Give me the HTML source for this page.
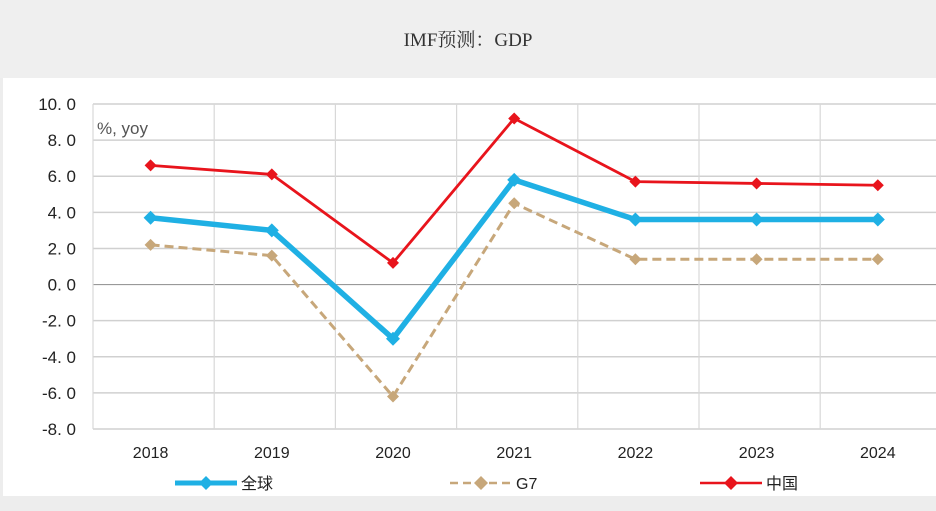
<!DOCTYPE html>
<html><head><meta charset="utf-8"><style>
body{margin:0;width:936px;height:506px;background:#ededed;overflow:hidden;font-family:"Liberation Sans","Noto Sans CJK SC",sans-serif}
</style></head><body>
<svg id="c" width="936" height="506" xmlns="http://www.w3.org/2000/svg">
<rect x="0" y="0" width="936" height="78" fill="#efefef"/>
<text x="468" y="46" text-anchor="middle" font-size="19" fill="#333" font-family="Liberation Serif, Noto Serif CJK SC, serif">IMF预测：GDP</text>
<rect x="3" y="78" width="933" height="418" fill="#fff"/>
<g id="grid"></g><g id="series"></g>
<text x="97" y="134" font-size="17" fill="#555">%,  yoy</text>
<g id="legend"></g>
</svg>
<script>
const years=['2018','2019','2020','2021','2022','2023','2024'];
const yTicks=[10,8,6,4,2,0,-2,-4,-6,-8];
const globalVals=[3.7,3.0,-3.0,5.8,3.6,3.6,3.6];
const g7Vals=[2.2,1.6,-6.2,4.5,1.4,1.4,1.4];
const chinaVals=[6.6,6.1,1.2,9.2,5.7,5.6,5.5];
const NS='http://www.w3.org/2000/svg';
const x0=90,cw=121.2,yTop=104,yBot=429,vmax=10,vmin=-8;
const X=i=>x0+cw*(i+0.5);
const Y=v=>yTop+(vmax-v)/(vmax-vmin)*(yBot-yTop);
function mk(t,a,p){const e=document.createElementNS(NS,t);for(const k in a)e.setAttribute(k,a[k]);p.appendChild(e);return e;}
const grid=document.getElementById('grid');
yTicks.forEach(v=>{
 const l=mk('line',{x1:x0+3,x2:936,y1:Y(v),y2:Y(v),stroke:v===0?'#999':'#d0d0d0','stroke-width':v===0?1.2:1.5},grid);
 
 
 const t=mk('text',{x:76,y:Y(v)+6,'text-anchor':'end','font-size':17,fill:'#222'},grid);
 t.textContent=v.toFixed(1).replace('.','. ');
 
 
});
for(let i=0;i<years.length;i++){
 const gx=x0+3+cw*i;
 const l=mk('line',{x1:gx,x2:gx,y1:yTop,y2:yBot,stroke:'#d8d8d8','stroke-width':1.2},grid);
 
 
 const t=mk('text',{x:X(i),y:458,'text-anchor':'middle','font-size':16,fill:'#222'},grid);
 t.textContent=years[i];
 
 
}
const ser=document.getElementById('series');
function draw(vals,color,w,dash,name,mr){
 const pts=vals.map((v,i)=>X(i)+','+Y(v)).join(' ');
 const p=mk('polyline',{points:pts,fill:'none',stroke:color,'stroke-width':w,'stroke-dasharray':dash||'none','stroke-linejoin':'round'},ser);
 
 
 vals.forEach((v,i)=>{
  const cx=X(i),cy=Y(v);
  const m=mk('polygon',{points:`${cx},${cy-mr} ${cx+mr},${cy} ${cx},${cy+mr} ${cx-mr},${cy}`,fill:color},ser);
  
  
 });
}
draw(g7Vals,'#c7a77a',3,'9,5','g7',6);
draw(globalVals,'#1fb0e4',5.5,null,'global',7);
draw(chinaVals,'#e8141c',2.8,null,'china',6);
const lg=document.getElementById('legend');
const items=[['全球','#1fb0e4',5,null,175],['G7','#c7a77a',2.5,'8,5',450],['中国','#e8141c',2.5,null,700]];
items.forEach(it=>{
 const g=mk('g',{},lg);
 
 
 mk('line',{x1:it[4],x2:it[4]+62,y1:483,y2:483,stroke:it[1],'stroke-width':it[2],'stroke-dasharray':it[3]||'none'},g);
 const c=it[4]+31;
 mk('polygon',{points:`${c},${476} ${c+7},483 ${c},490 ${c-7},483`,fill:it[1]},g);
 const t=mk('text',{x:it[4]+66,y:489,'font-size':16,fill:'#222'},g);
 t.textContent=it[0];
});
</script>
</body></html>
